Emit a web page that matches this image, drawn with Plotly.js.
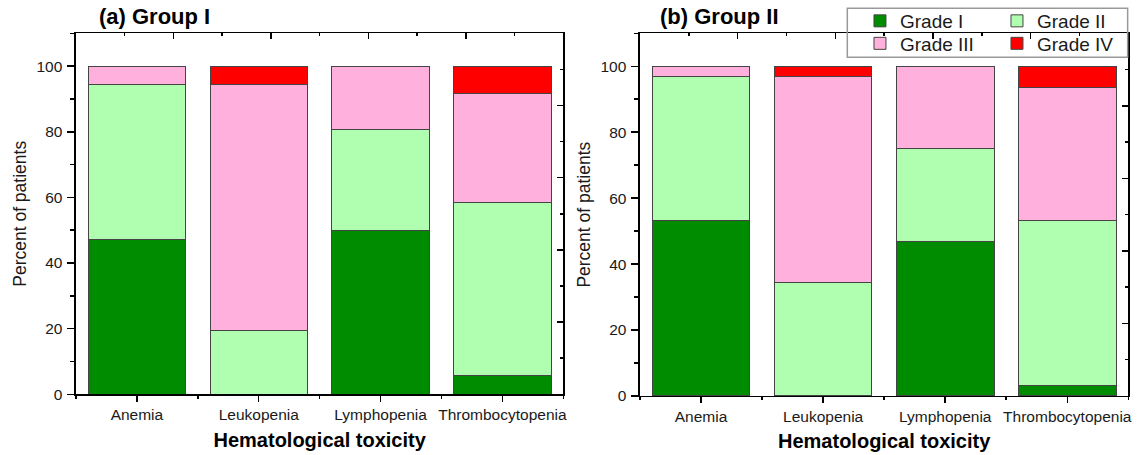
<!DOCTYPE html>
<html>
<head>
<meta charset="utf-8">
<script src="https://cdn.plot.ly/plotly-3.0.1.min.js"></script>
<style>html,body{margin:0;padding:0;background:#fff;}#chart{width:1141px;height:455px;}</style>
</head>
<body>
<div id="chart"></div>
<script>
const categories = ['Anemia', 'Leukopenia', 'Lymphopenia', 'Thrombocytopenia'];
const grades = ['Grade I', 'Grade II', 'Grade III', 'Grade IV'];
const gradeColors = ['#008c00', '#b0ffb0', '#ffb0dc', '#ff0000'];
const panelTitles = ['(a) Group I', '(b) Group II'];
const yTitle = 'Percent of patients';
const xTitle = 'Hematological toxicity';

// Group I (% of patients)
const g1GradeI   = [47.2, 0.0, 50.0, 5.6];
const g1GradeII  = [47.2, 19.4, 30.6, 52.8];
const g1GradeIII = [5.6, 75.0, 19.4, 33.3];
const g1GradeIV  = [0.0, 5.6, 0.0, 8.3];

// Group II (% of patients)
const g2GradeI   = [53.1, 0.0, 46.9, 3.1];
const g2GradeII  = [43.8, 34.4, 28.1, 50.0];
const g2GradeIII = [3.1, 62.5, 25.0, 40.6];
const g2GradeIV  = [0.0, 3.1, 0.0, 6.3];

const xIdx = categories.map((c, i) => i);
const FONT = 'Liberation Sans, Arial, sans-serif';
// legend rows: Grade I & II in first row, Grade III & IV in second row
const legendOf = ['legend', 'legend', 'legend2', 'legend2'];
const groups = [
  {series: [g1GradeI, g1GradeII, g1GradeIII, g1GradeIV], xa: 'x', ya: 'y', fx: 'x3', fy: 'y3', legend: true},
  {series: [g2GradeI, g2GradeII, g2GradeIII, g2GradeIV], xa: 'x2', ya: 'y2', fx: 'x4', fy: 'y4', legend: false}
];

const traces = [];
groups.forEach(g => {
  g.series.forEach((vals, k) => {
    traces.push({
      type: 'bar', x: xIdx, y: vals, name: grades[k],
      legendgroup: grades[k], showlegend: g.legend, legend: legendOf[k],
      xaxis: g.xa, yaxis: g.ya,
      marker: {color: gradeColors[k], line: {color: '#444', width: 1}},
      hoverinfo: 'name+y'
    });
  });
  // empty trace that only activates the frame (top/right) axes
  traces.push({type: 'scatter', mode: 'lines', x: [], y: [], xaxis: g.fx, yaxis: g.fy,
               showlegend: false, hoverinfo: 'skip'});
});

function mainX(domain, anchor) {
  return {
    domain: domain, anchor: anchor, range: [-0.5, 3.5],
    tickmode: 'array', tickvals: xIdx, ticktext: categories, tickangle: 0,
    ticks: 'outside', ticklen: 6, tickwidth: 1.5, tickcolor: '#000',
    minor: {tick0: -0.5, dtick: 1, ticks: 'outside', ticklen: 3, tickwidth: 1.5, tickcolor: '#000'},
    showline: true, linewidth: 1.5, linecolor: '#000',
    showgrid: false, zeroline: false,
    tickfont: {family: FONT, size: 15.5, color: '#1a1a1a'},
    title: {text: '<b>' + xTitle + '</b>', font: {family: FONT, size: 20, color: '#000'}, standoff: 10}
  };
}
function mainY(domain, anchor) {
  return {
    domain: domain, anchor: anchor, range: [0, 110],
    tick0: 0, dtick: 20,
    ticks: 'outside', ticklen: 7, tickwidth: 1.5, tickcolor: '#000',
    minor: {dtick: 10, ticks: 'outside', ticklen: 4, tickwidth: 1.5, tickcolor: '#000'},
    showline: true, linewidth: 1.5, linecolor: '#000',
    showgrid: false, zeroline: false,
    tickfont: {family: FONT, size: 15.5, color: '#1a1a1a'},
    ticklabelstandoff: 2,
    title: {text: yTitle, font: {family: FONT, size: 17.5, color: '#1a1a1a'}, standoff: 5}
  };
}
function frameAxis(over, anchor, side) {
  return {
    overlaying: over, anchor: anchor, side: side, range: [0, 1],
    tick0: 0, dtick: 0.2, ticks: 'inside', ticklen: 6, tickwidth: 1.5, tickcolor: '#000',
    minor: {dtick: 0.1, ticks: 'inside', ticklen: 3, tickwidth: 1.5, tickcolor: '#000'},
    showticklabels: false, showline: true, linewidth: 1.5, linecolor: '#000',
    showgrid: false, zeroline: false, fixedrange: true
  };
}
function legendRow(y) {
  return {
    orientation: 'h', x: 0.7537, y: y, xanchor: 'left', yanchor: 'top',
    entrywidth: 92, entrywidthmode: 'pixels',
    traceorder: 'normal', borderwidth: 0,
    bgcolor: 'rgba(255,255,255,0)',
    font: {family: FONT, size: 19, color: '#1a1a1a'}
  };
}

const layout = {
  width: 1141, height: 455,
  margin: {l: 0, r: 0, t: 0, b: 0, autoexpand: false},
  paper_bgcolor: '#fff', plot_bgcolor: '#fff',
  barmode: 'stack', bargap: 0.2,
  font: {family: FONT, color: '#1a1a1a'},
  xaxis: mainX([0.0666, 0.4937], 'y'),
  yaxis: mainY([0.1334, 0.9268], 'x'),
  xaxis2: mainX([0.5609, 0.9889], 'y2'),
  yaxis2: mainY([0.1297, 0.9268], 'x2'),
  xaxis3: frameAxis('x', 'y3', 'top'),
  yaxis3: frameAxis('y', 'x3', 'right'),
  xaxis4: frameAxis('x2', 'y4', 'top'),
  yaxis4: frameAxis('y2', 'x4', 'right'),
  legend: legendRow(0.9956),
  legend2: legendRow(0.9462),
  shapes: [
    {type: 'rect', xref: 'paper', yref: 'paper', x0: 0.7426, x1: 0.9883, y0: 0.8741, y1: 0.9818,
     line: {color: '#999', width: 1.5}, fillcolor: 'rgba(0,0,0,0)', layer: 'above'}
  ],
  annotations: [
    {text: '<b>' + panelTitles[0] + '</b>', xref: 'paper', yref: 'paper', x: 0.0850, y: 0.9633,
     xanchor: 'left', yanchor: 'middle', showarrow: false, font: {family: FONT, size: 22, color: '#000'}},
    {text: '<b>' + panelTitles[1] + '</b>', xref: 'paper', yref: 'paper', x: 0.5770, y: 0.9633,
     xanchor: 'left', yanchor: 'middle', showarrow: false, font: {family: FONT, size: 22, color: '#000'}}
  ],
  showlegend: true
};

Plotly.newPlot('chart', traces, layout, {displayModeBar: false, staticPlot: true});
</script>
</body>
</html>
